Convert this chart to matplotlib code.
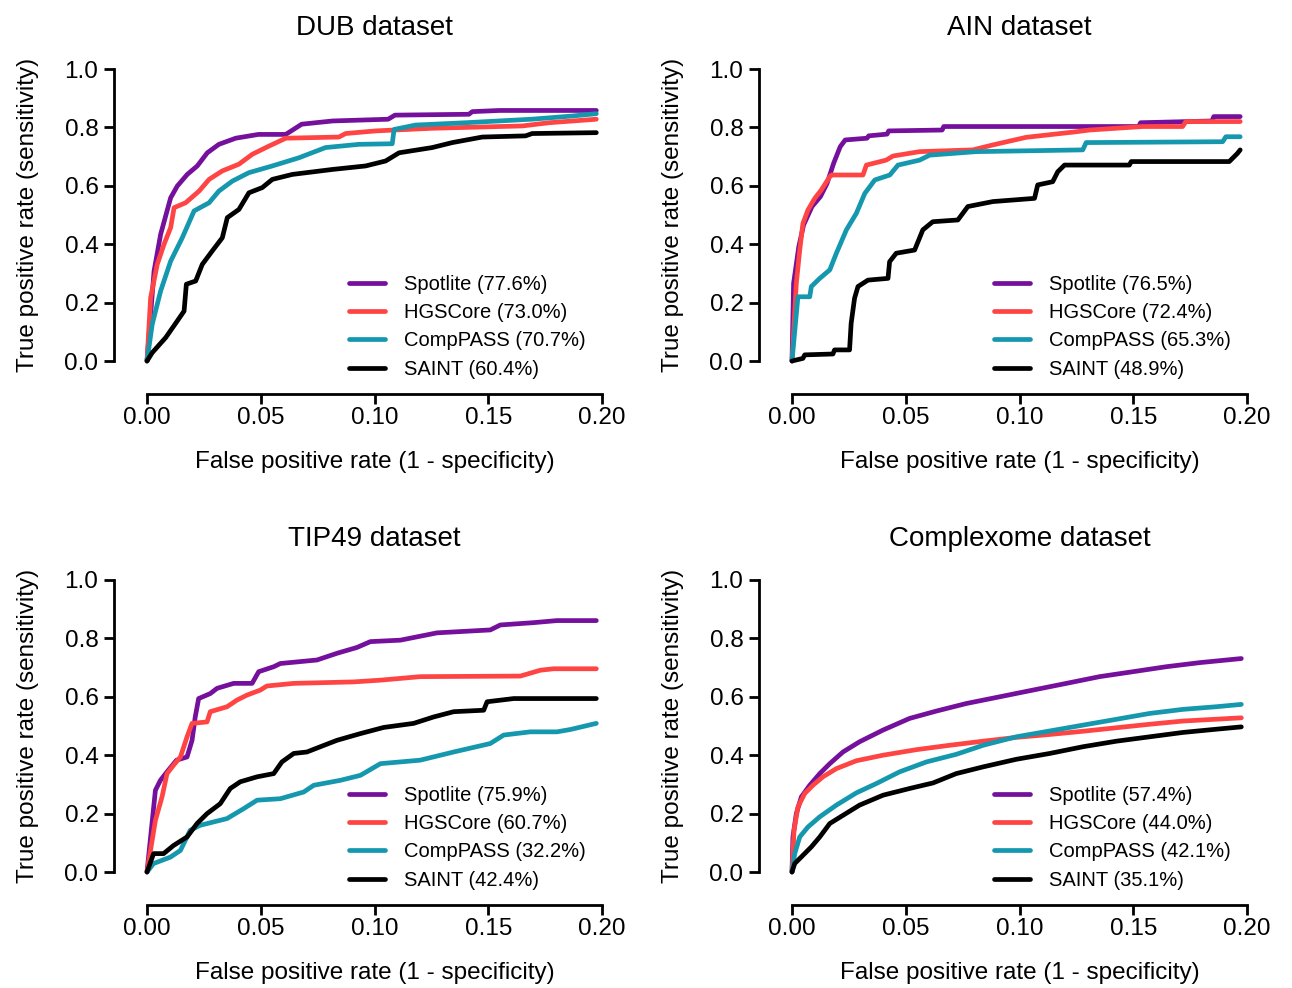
import matplotlib
matplotlib.use("Agg")
import matplotlib.pyplot as plt

plt.rcParams["font.family"] = ["Liberation Sans", "DejaVu Sans"]

METHODS = ["Spotlite", "HGSCore", "CompPASS", "SAINT"]
COLORS = ["#74109C", "#FF4444", "#1598AE", "#000000"]

# ---- DUB dataset ----
dub_spotlite_fpr = [0, 0.0031, 0.006, 0.0104, 0.0133, 0.0177, 0.0221, 0.0265, 0.0316, 0.039, 0.049, 0.061,
                    0.068, 0.0815, 0.106, 0.109, 0.1415, 0.143, 0.155, 0.1975]
dub_spotlite_tpr = [0, 0.308, 0.434, 0.559, 0.599, 0.639, 0.668, 0.713, 0.742, 0.763, 0.776, 0.776,
                    0.811, 0.822, 0.828, 0.842, 0.845, 0.854, 0.858, 0.858]
dub_hgscore_fpr = [0, 0.0016, 0.0045, 0.0075, 0.0104, 0.0119, 0.017, 0.0229, 0.0273, 0.0331, 0.0404, 0.0463,
                   0.0536, 0.061, 0.0844, 0.0873, 0.1005, 0.1254, 0.165, 0.1767, 0.1975]
dub_hgscore_tpr = [0, 0.217, 0.331, 0.400, 0.457, 0.525, 0.542, 0.582, 0.622, 0.651, 0.674, 0.708,
                   0.736, 0.763, 0.767, 0.779, 0.788, 0.797, 0.805, 0.816, 0.828]
dub_comppass_fpr = [0, 0.0023, 0.006, 0.0104, 0.0155, 0.0207, 0.0273, 0.0316, 0.0375, 0.0448, 0.0551, 0.0668,
                    0.0785, 0.0932, 0.1078, 0.1086, 0.118, 0.140, 0.169, 0.187, 0.1975]
dub_comppass_tpr = [0, 0.126, 0.240, 0.342, 0.422, 0.514, 0.542, 0.582, 0.616, 0.645, 0.668, 0.696,
                    0.731, 0.742, 0.744, 0.793, 0.808, 0.816, 0.828, 0.839, 0.847]
dub_saint_fpr = [0, 0.0023, 0.0082, 0.0133, 0.0163, 0.0173, 0.0214, 0.0243, 0.0287, 0.0331, 0.0353, 0.0404,
                 0.0448, 0.0507, 0.0551, 0.0639, 0.0815, 0.0961, 0.1049, 0.1108, 0.1254, 0.1342, 0.1474,
                 0.1664, 0.1693, 0.1975]
dub_saint_tpr = [0, 0.0285, 0.080, 0.137, 0.171, 0.263, 0.274, 0.331, 0.377, 0.422, 0.491, 0.519,
                 0.576, 0.594, 0.622, 0.639, 0.656, 0.668, 0.685, 0.713, 0.731, 0.748, 0.767,
                 0.771, 0.779, 0.782]
dub_labels = ["Spotlite (77.6%)", "HGSCore (73.0%)", "CompPASS (70.7%)", "SAINT (60.4%)"]

# ---- AIN dataset ----
ain_spotlite_fpr = [0, 0.0007, 0.003, 0.0051, 0.0088, 0.0125, 0.0154, 0.0183, 0.0212, 0.0234, 0.033, 0.0337,
                    0.0418, 0.0425, 0.066, 0.0667, 0.1524, 0.1532, 0.1846, 0.1854, 0.197]
ain_spotlite_tpr = [0, 0.266, 0.392, 0.466, 0.529, 0.563, 0.608, 0.677, 0.734, 0.757, 0.763, 0.771,
                    0.777, 0.788, 0.791, 0.803, 0.803, 0.816, 0.822, 0.837, 0.837]
ain_hgscore_fpr = [0, 0.0019, 0.0034, 0.0048, 0.007, 0.01, 0.0129, 0.0166, 0.0173, 0.0312, 0.0327, 0.0414,
                   0.0444, 0.0561, 0.0795, 0.0883, 0.1029, 0.1248, 0.1307, 0.1541, 0.1717, 0.1731, 0.197]
ain_hgscore_tpr = [0, 0.266, 0.380, 0.471, 0.517, 0.557, 0.586, 0.631, 0.637, 0.637, 0.671, 0.688,
                   0.702, 0.717, 0.723, 0.740, 0.766, 0.785, 0.791, 0.803, 0.803, 0.820, 0.820]
ain_comppass_fpr = [0, 0.0026, 0.0078, 0.0085, 0.0122, 0.0166, 0.0195, 0.0239, 0.0283, 0.032, 0.0364, 0.043,
                    0.0466, 0.0561, 0.0605, 0.081, 0.1278, 0.1293, 0.1893, 0.1907, 0.197]
ain_comppass_tpr = [0, 0.220, 0.220, 0.255, 0.283, 0.312, 0.369, 0.449, 0.506, 0.574, 0.620, 0.637,
                    0.671, 0.688, 0.705, 0.717, 0.723, 0.748, 0.751, 0.768, 0.768]
ain_saint_fpr = [0, 0.0048, 0.0056, 0.018, 0.0187, 0.0253, 0.026, 0.0275, 0.029, 0.0334, 0.0422, 0.0429,
                 0.0458, 0.0539, 0.0575, 0.0619, 0.0729, 0.0773, 0.0883, 0.1066, 0.108, 0.1146, 0.1168,
                 0.1198, 0.1483, 0.1491, 0.1922, 0.1958, 0.197]
ain_saint_tpr = [0, 0.009, 0.021, 0.024, 0.038, 0.038, 0.129, 0.215, 0.255, 0.277, 0.283, 0.340,
                 0.369, 0.380, 0.449, 0.477, 0.483, 0.529, 0.546, 0.557, 0.603, 0.614, 0.648,
                 0.671, 0.671, 0.683, 0.683, 0.711, 0.723]
ain_labels = ["Spotlite (76.5%)", "HGSCore (72.4%)", "CompPASS (65.3%)", "SAINT (48.9%)"]

# ---- TIP49 dataset ----
tip_spotlite_fpr = [0, 0.0037, 0.0059, 0.0088, 0.013, 0.0176, 0.0198, 0.0212, 0.0227, 0.0278, 0.0308, 0.0381,
                    0.0462, 0.0491, 0.0557, 0.0586, 0.0747, 0.0835, 0.0923, 0.0982, 0.1114, 0.1275, 0.1509,
                    0.1553, 0.17, 0.1802, 0.1975]
tip_spotlite_tpr = [0, 0.280, 0.314, 0.343, 0.383, 0.394, 0.451, 0.531, 0.594, 0.611, 0.629, 0.646,
                    0.646, 0.686, 0.703, 0.714, 0.726, 0.749, 0.769, 0.789, 0.794, 0.819, 0.829,
                    0.846, 0.854, 0.861, 0.861]
tip_hgscore_fpr = [0, 0.0037, 0.0066, 0.0088, 0.0117, 0.0147, 0.0176, 0.0198, 0.0264, 0.0278, 0.0352, 0.0396,
                   0.044, 0.0498, 0.0527, 0.0645, 0.0908, 0.1026, 0.1201, 0.1641, 0.1729, 0.1787, 0.1975]
tip_hgscore_tpr = [0, 0.177, 0.257, 0.337, 0.366, 0.394, 0.463, 0.509, 0.514, 0.549, 0.566, 0.589,
                   0.606, 0.623, 0.637, 0.646, 0.651, 0.657, 0.669, 0.671, 0.691, 0.696, 0.696]
tip_comppass_fpr = [0, 0.0029, 0.0103, 0.0147, 0.019, 0.0234, 0.0352, 0.0425, 0.0484, 0.0586, 0.0689, 0.0733,
                    0.085, 0.0938, 0.1026, 0.1201, 0.1348, 0.1509, 0.1568, 0.1685, 0.1802, 0.1861, 0.1975]
tip_comppass_tpr = [0, 0.029, 0.051, 0.074, 0.143, 0.160, 0.183, 0.217, 0.246, 0.251, 0.274, 0.297,
                    0.314, 0.331, 0.371, 0.383, 0.411, 0.440, 0.469, 0.480, 0.480, 0.488, 0.509]
tip_saint_fpr = [0, 0.0029, 0.0073, 0.0117, 0.0176, 0.022, 0.0264, 0.0322, 0.0366, 0.041, 0.0484, 0.0557,
                 0.0593, 0.0645, 0.0703, 0.0762, 0.0835, 0.0938, 0.104, 0.1172, 0.126, 0.1348, 0.148,
                 0.1495, 0.1612, 0.1975]
tip_saint_tpr = [0, 0.063, 0.063, 0.091, 0.120, 0.166, 0.200, 0.234, 0.286, 0.309, 0.326, 0.337,
                 0.377, 0.406, 0.411, 0.429, 0.451, 0.474, 0.495, 0.509, 0.531, 0.549, 0.554,
                 0.583, 0.594, 0.594]
tip_labels = ["Spotlite (75.9%)", "HGSCore (60.7%)", "CompPASS (32.2%)", "SAINT (42.4%)"]

# ---- Complexome dataset ----
cx_spotlite_fpr = [0, 0.0004, 0.0019, 0.0041, 0.0078, 0.0122, 0.0166, 0.0224, 0.0297, 0.04, 0.0517, 0.0634,
                   0.0766, 0.0913, 0.1059, 0.1206, 0.1352, 0.1499, 0.1645, 0.1792, 0.1975]
cx_spotlite_tpr = [0, 0.120, 0.200, 0.257, 0.297, 0.337, 0.371, 0.411, 0.446, 0.486, 0.526, 0.551,
                   0.577, 0.600, 0.623, 0.646, 0.669, 0.686, 0.703, 0.717, 0.731]
cx_hgscore_fpr = [0, 0.0009, 0.0026, 0.0056, 0.0092, 0.0136, 0.0195, 0.0283, 0.04, 0.0547, 0.0693, 0.084,
                  0.0986, 0.1133, 0.1279, 0.1426, 0.1572, 0.1719, 0.1975]
cx_hgscore_tpr = [0, 0.143, 0.223, 0.269, 0.297, 0.326, 0.354, 0.381, 0.400, 0.419, 0.434, 0.448,
                  0.461, 0.471, 0.482, 0.494, 0.506, 0.517, 0.528]
cx_comppass_fpr = [0, 0.0012, 0.0034, 0.007, 0.0122, 0.0195, 0.0283, 0.0371, 0.0473, 0.0591, 0.0722, 0.084,
                   0.0986, 0.1133, 0.1279, 0.1426, 0.1572, 0.1719, 0.1865, 0.1975]
cx_comppass_tpr = [0, 0.063, 0.120, 0.154, 0.189, 0.229, 0.271, 0.303, 0.343, 0.377, 0.403, 0.434,
                   0.463, 0.483, 0.503, 0.523, 0.543, 0.557, 0.566, 0.574]
cx_saint_fpr = [0, 0.0012, 0.0048, 0.0085, 0.0122, 0.0166, 0.0224, 0.0297, 0.04, 0.0517, 0.062, 0.0722,
                0.084, 0.0986, 0.1133, 0.1279, 0.1426, 0.1572, 0.1719, 0.1865, 0.1975]
cx_saint_tpr = [0, 0.029, 0.057, 0.086, 0.120, 0.166, 0.194, 0.229, 0.263, 0.286, 0.305, 0.337,
                0.360, 0.386, 0.406, 0.429, 0.448, 0.463, 0.478, 0.489, 0.497]
cx_labels = ["Spotlite (57.4%)", "HGSCore (44.0%)", "CompPASS (42.1%)", "SAINT (35.1%)"]

x_ticks = [0.0, 0.05, 0.10, 0.15, 0.20]
y_ticks = [0.0, 0.2, 0.4, 0.6, 0.8, 1.0]

panels = [
    ("DUB dataset", [(dub_spotlite_fpr, dub_spotlite_tpr), (dub_hgscore_fpr, dub_hgscore_tpr),
                     (dub_comppass_fpr, dub_comppass_tpr), (dub_saint_fpr, dub_saint_tpr)], dub_labels),
    ("AIN dataset", [(ain_spotlite_fpr, ain_spotlite_tpr), (ain_hgscore_fpr, ain_hgscore_tpr),
                     (ain_comppass_fpr, ain_comppass_tpr), (ain_saint_fpr, ain_saint_tpr)], ain_labels),
    ("TIP49 dataset", [(tip_spotlite_fpr, tip_spotlite_tpr), (tip_hgscore_fpr, tip_hgscore_tpr),
                       (tip_comppass_fpr, tip_comppass_tpr), (tip_saint_fpr, tip_saint_tpr)], tip_labels),
    ("Complexome dataset", [(cx_spotlite_fpr, cx_spotlite_tpr), (cx_hgscore_fpr, cx_hgscore_tpr),
                            (cx_comppass_fpr, cx_comppass_tpr), (cx_saint_fpr, cx_saint_tpr)], cx_labels),
]

W, H = 1292, 988
fig = plt.figure(figsize=(W / 100, H / 100), dpi=100)

# axes boxes in pixels: left, top of data area
boxes = [(147, 69), (792, 69), (147, 580), (792, 580)]
aw, ah = 455, 292

for (title, curves, labels), (px, py) in zip(panels, boxes):
    ax = fig.add_axes([px / W, 1 - (py + ah) / H, aw / W, ah / H])
    for (fx, ty), color, lab in zip(curves, COLORS, labels):
        ax.plot(fx, ty, color=color, lw=3.4, label=lab, clip_on=False,
                solid_capstyle="round", solid_joinstyle="round")
    ax.set_xlim(0, 0.2)
    ax.set_ylim(0, 1)
    ax.set_xticks(x_ticks)
    ax.set_xticklabels([f"{v:.2f}" for v in x_ticks])
    ax.set_yticks(y_ticks)
    ax.set_yticklabels([f"{v:.1f}" for v in y_ticks])
    for side in ("top", "right"):
        ax.spines[side].set_visible(False)
    for side in ("left", "bottom"):
        ax.spines[side].set_position(("outward", 23.5))
        ax.spines[side].set_linewidth(2.0)
    ax.spines["left"].set_bounds(0, 1)
    ax.spines["bottom"].set_bounds(0, 0.2)
    ax.tick_params(axis="both", direction="out", length=7.5, width=2.0, labelsize=17.5, colors="black")
    ax.tick_params(axis="y", pad=4)
    ax.tick_params(axis="x", pad=2)
    ax.set_xlabel("False positive rate (1 - specificity)", fontsize=17.5, labelpad=16)
    ax.set_ylabel("True positive rate (sensitivity)", fontsize=17.5, labelpad=18)
    ax.set_title(title, fontsize=20, pad=24.5)
    ax.legend(loc="upper left", bbox_to_anchor=(0.444, 0.295), frameon=False, fontsize=14.5,
              handlelength=1.8, handletextpad=0.95, labelspacing=0.46, borderpad=0, borderaxespad=0)

fig.savefig("out.png", dpi=100)
